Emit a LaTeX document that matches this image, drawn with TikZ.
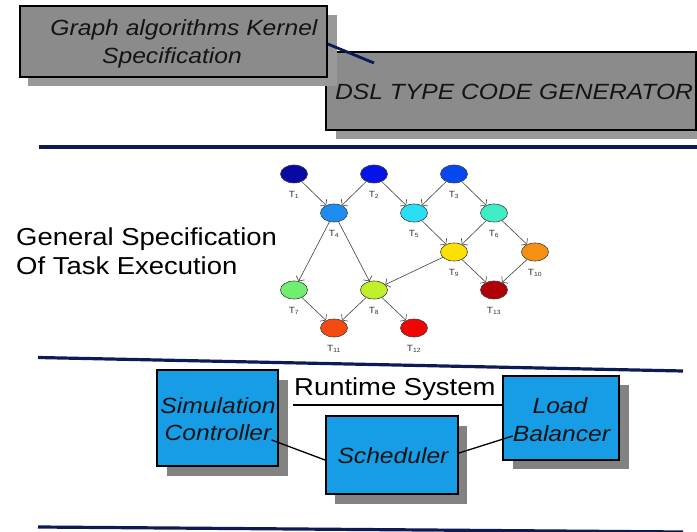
\documentclass[tikz,border=0pt]{standalone}
\usepackage{fontspec}
\setmainfont{Liberation Sans}[FakeStretch=1.12]
\usetikzlibrary{shapes.geometric,arrows.meta,calc}

\definecolor{navy}{HTML}{0C1A55}
\definecolor{boxgrey}{HTML}{8B8B8B}
\definecolor{greyshadow}{HTML}{999999}
\definecolor{boxblue}{HTML}{169DE6}
\definecolor{blueshadow}{HTML}{828282}
\definecolor{edgegrey}{HTML}{4A4A4A}
% task colours, cold to hot
\definecolor{c1}{HTML}{0808A4}
\definecolor{c2}{HTML}{0414E6}
\definecolor{c3}{HTML}{0648F0}
\definecolor{c4}{HTML}{1E8CF0}
\definecolor{c5}{HTML}{2ADEF6}
\definecolor{c6}{HTML}{40EEC6}
\definecolor{c7}{HTML}{70EE70}
\definecolor{c8}{HTML}{C0F028}
\definecolor{c9}{HTML}{FCE000}
\definecolor{c10}{HTML}{F59012}
\definecolor{c11}{HTML}{F54A10}
\definecolor{c12}{HTML}{F00404}
\definecolor{c13}{HTML}{B00008}

\tikzset{
  greybox/.style={rectangle, draw=black, line width=1.6pt, fill=boxgrey, inner sep=0pt},
  bluebox/.style={rectangle, draw=black, line width=2pt, fill=boxblue, inner sep=0pt},
  boxtext/.style={inner sep=0pt, anchor=base, font=\fontsize{22}{27}\selectfont\itshape, text=black!92},
  headtext/.style={inner sep=0pt, anchor=base west, font=\fontsize{24.5}{29}\selectfont, text=black},
  task/.style={ellipse, draw=black!75, line width=0.6pt, minimum width=27pt, minimum height=18pt, inner sep=0pt},
  tlab/.style={inner sep=0pt, font=\fontsize{9}{10}\selectfont, text=black!80},
  edge/.style={draw=edgegrey, line width=0.65pt, -{Straight Barb[length=3.5pt,width=9.5pt]}},
  rule/.style={draw=navy, line width=3.2pt},
  wire/.style={draw=black, line width=1.3pt}
}

\begin{document}
\begin{tikzpicture}[x=1pt,y=-1pt]
\useasboundingbox (0,0) rectangle (697,532);
\clip (0,0) rectangle (697,532);

% ---- top part: kernel specification and code generator
\fill[greyshadow] (336,61) rectangle (720,139);
\node[greybox, minimum width=370pt, minimum height=78pt] (dsl) at (511,91) {};
\node[inner sep=0pt, anchor=base west, font=\fontsize{22}{27}\selectfont\itshape, text=black!92] (dsltext) at (335,100) {DSL TYPE CODE GENERATOR};

\fill[greyshadow] (28,15) rectangle (337,86);
\node[greybox, minimum width=307pt, minimum height=71pt] (gk) at (173.5,41.5) {};
\node[boxtext] (gk1) at (184,36) {Graph algorithms Kernel};
\node[boxtext] (gk2) at (172,64) {Specification};

\coordinate (dslin) at (374,63);
\draw[navy, line width=2.8pt] ([yshift=-2.5pt]gk.east) -- (dslin);

\draw[rule] (39,147) -- (697,147);

% ---- task graph
\node[headtext] (gs1) at (16,246) {General Specification};
\node[headtext] (gs2) at (16,275) {Of Task Execution};

\foreach \n/\x/\y in {1/294/174, 2/374/174, 3/454/174,
                      4/334/213, 5/414/213, 6/494/213,
                      9/454/252, 10/535/252,
                      7/294/290, 8/374/290, 13/494/290,
                      11/334/328, 12/414/328} {
  \node[task, fill=c\n] (t\n) at (\x,\y) {};
  \node[tlab] (l\n) at (\x,\y+21) {T\textsubscript{\n}};
}

\foreach \a/\b in {1/4, 2/4, 2/5, 3/5, 3/6, 4/7, 4/8, 5/9, 6/9, 6/10,
                   9/8, 9/13, 10/13, 7/11, 8/11, 8/12}
  \draw[edge] (t\a) -- (t\b);

\draw[rule] (38,357.5) -- (683,371);

% ---- runtime system
\node[headtext] (rts) at (294,395) {Runtime System};

\fill[blueshadow] (167,380) rectangle (288,476);
\node[bluebox, minimum width=121pt, minimum height=96pt] (sim) at (217.5,418) {};
\node[boxtext] (sim1) at (218,413) {Simulation};
\node[boxtext] (sim2) at (218,440) {Controller};

\fill[blueshadow] (335,426) rectangle (467,504);
\node[bluebox, minimum width=132pt, minimum height=78pt] (sched) at (392,455) {};
\node[boxtext] (sched1) at (393,463) {Scheduler};

\fill[blueshadow] (513,385) rectangle (629,469);
\node[bluebox, minimum width=116pt, minimum height=84pt] (load) at (561,418) {};
\node[boxtext] (load1) at (560,413) {Load};
\node[boxtext] (load2) at (561.5,441) {Balancer};

\coordinate (ul) at (293,405);
\draw[black, line width=1.4pt] (ul) -- (ul -| load.west);

\draw[wire] (sim2.base east) -- ([yshift=-5pt]sched.west);
\draw[wire] ([yshift=2pt]sched.east) -- ([yshift=5pt]load2.base west);

\draw[rule] (38,527) -- (683,532);
\end{tikzpicture}
\end{document}
